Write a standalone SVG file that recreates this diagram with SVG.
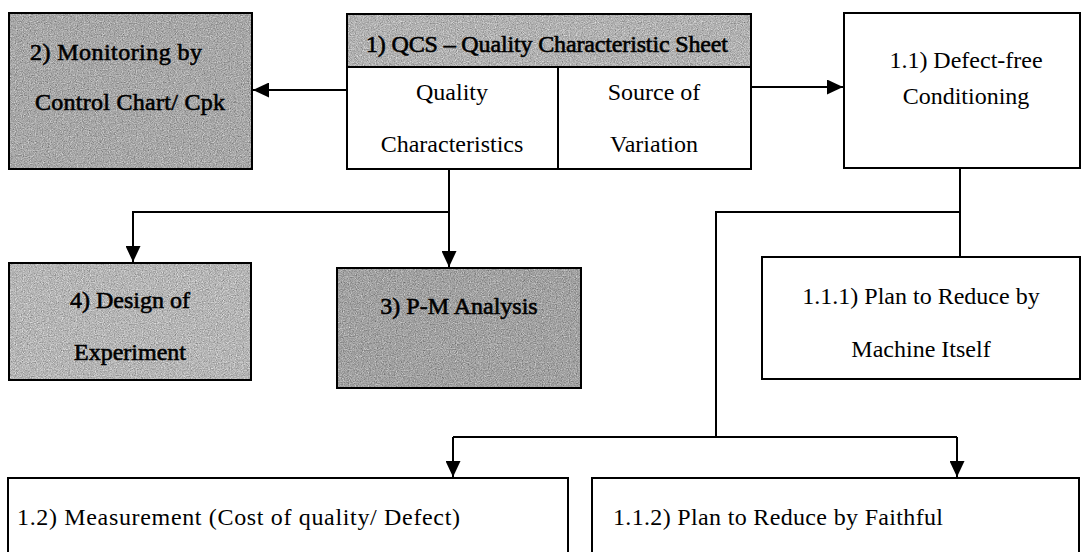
<svg xmlns="http://www.w3.org/2000/svg" width="1083" height="552" viewBox="0 0 1083 552">
  <defs>
    <!-- speckled halftone texture for the shaded boxes -->
    <filter id="grain" x="0" y="0" width="100%" height="100%" color-interpolation-filters="sRGB">
      <feTurbulence type="fractalNoise" baseFrequency="0.85" numOctaves="2" seed="7" result="n"/>
      <feColorMatrix in="n" type="matrix" values="0.33 0.33 0.33 0 0  0.33 0.33 0.33 0 0  0.33 0.33 0.33 0 0  0 0 0 0 1" result="g"/>
      <feComposite in="SourceGraphic" in2="g" operator="arithmetic" k1="0" k2="1" k3="0.9" k4="-0.45" result="mix"/>
      <feComposite in="mix" in2="SourceGraphic" operator="in"/>
    </filter>
    <marker id="arrow" markerUnits="userSpaceOnUse" markerWidth="16" markerHeight="15" refX="16" refY="7.5" orient="auto">
      <path d="M0,0 L16,7.5 L0,15 Z" fill="#000"/>
    </marker>
  </defs>
  <style>
    .box { fill: #fff; stroke: #000; stroke-width: 2; }
    .frame { fill: none; stroke: #000; stroke-width: 2; }
    .shade { filter: url(#grain); }
    .t { font-family: "Liberation Serif", "Times New Roman", serif; font-size: 24px; fill: #000; }
    .tb { font-family: "Liberation Serif", "Times New Roman", serif; font-size: 24px; fill: #000; stroke: #000; stroke-width: 0.6; }
    .mid { text-anchor: middle; }
    .conn { fill: none; stroke: #000; stroke-width: 2; }
  </style>

  <rect width="1083" height="552" fill="#fff"/>

  <!-- 2) Monitoring -->
  <g id="node-monitoring">
    <rect class="shade" x="9" y="13" width="243" height="156" fill="#a8a8a8"/>
    <rect class="frame" x="9" y="13" width="243" height="156"/>
    <text class="tb" x="30" y="60" textLength="172">2) Monitoring by</text>
    <text class="tb" x="35" y="110" textLength="190">Control Chart/ Cpk</text>
  </g>

  <!-- 1) QCS table -->
  <g id="node-qcs">
    <rect class="box" x="347" y="14" width="404" height="155"/>
    <rect class="shade" x="347" y="14" width="404" height="53" fill="#b2b2b2"/>
    <rect class="frame" x="347" y="14" width="404" height="155"/>
    <line class="frame" x1="347" y1="67" x2="751" y2="67"/>
    <line class="frame" x1="558" y1="67" x2="558" y2="169"/>
    <text class="tb mid" x="547" y="52" textLength="362">1) QCS – Quality Characteristic Sheet</text>
    <text class="t mid" x="452" y="100">Quality</text>
    <text class="t mid" x="452" y="152">Characteristics</text>
    <text class="t mid" x="654" y="100">Source of</text>
    <text class="t mid" x="654" y="152">Variation</text>
  </g>

  <!-- 1.1) Defect-free Conditioning -->
  <g id="node-defect-free">
    <rect class="box" x="844" y="13" width="236" height="155"/>
    <text class="t mid" x="966" y="68">1.1) Defect-free</text>
    <text class="t mid" x="966" y="104">Conditioning</text>
  </g>

  <!-- 4) Design of Experiment -->
  <g id="node-doe">
    <rect class="shade" x="9" y="263" width="242" height="117" fill="#b6b6b6"/>
    <rect class="frame" x="9" y="263" width="242" height="117"/>
    <text class="tb mid" x="130" y="308">4) Design of</text>
    <text class="tb mid" x="130" y="360">Experiment</text>
  </g>

  <!-- 3) P-M Analysis -->
  <g id="node-pm">
    <rect class="shade" x="337" y="268" width="244" height="120" fill="#a2a2a2"/>
    <rect class="frame" x="337" y="268" width="244" height="120"/>
    <text class="tb mid" x="459" y="314">3) P-M Analysis</text>
  </g>

  <!-- 1.1.1) Plan to Reduce by Machine Itself -->
  <g id="node-machine">
    <rect class="box" x="762" y="257" width="318" height="122"/>
    <text class="t mid" x="921" y="304">1.1.1) Plan to Reduce by</text>
    <text class="t mid" x="921" y="357">Machine Itself</text>
  </g>

  <!-- 1.2) Measurement -->
  <g id="node-measurement">
    <rect class="box" x="8" y="478" width="560" height="120"/>
    <text class="t" x="17" y="525" textLength="443">1.2) Measurement (Cost of quality/ Defect)</text>
  </g>

  <!-- 1.1.2) Plan to Reduce by Faithful -->
  <g id="node-faithful">
    <rect class="box" x="592" y="478" width="487" height="120"/>
    <text class="t" x="613" y="525" textLength="330">1.1.2) Plan to Reduce by Faithful</text>
  </g>

  <!-- connectors -->
  <g id="connectors">
    <path class="conn" d="M347,90 H253" marker-end="url(#arrow)"/>
    <path class="conn" d="M751,87 H843" marker-end="url(#arrow)"/>
    <path class="conn" d="M449,169 V267" marker-end="url(#arrow)"/>
    <path class="conn" d="M449,212 H133 V262" marker-end="url(#arrow)"/>
    <path class="conn" d="M960,168 V257"/>
    <path class="conn" d="M960,212 H716 V437"/>
    <path class="conn" d="M453,437 H957"/>
    <path class="conn" d="M453,437 V477" marker-end="url(#arrow)"/>
    <path class="conn" d="M957,437 V477" marker-end="url(#arrow)"/>
  </g>
</svg>
